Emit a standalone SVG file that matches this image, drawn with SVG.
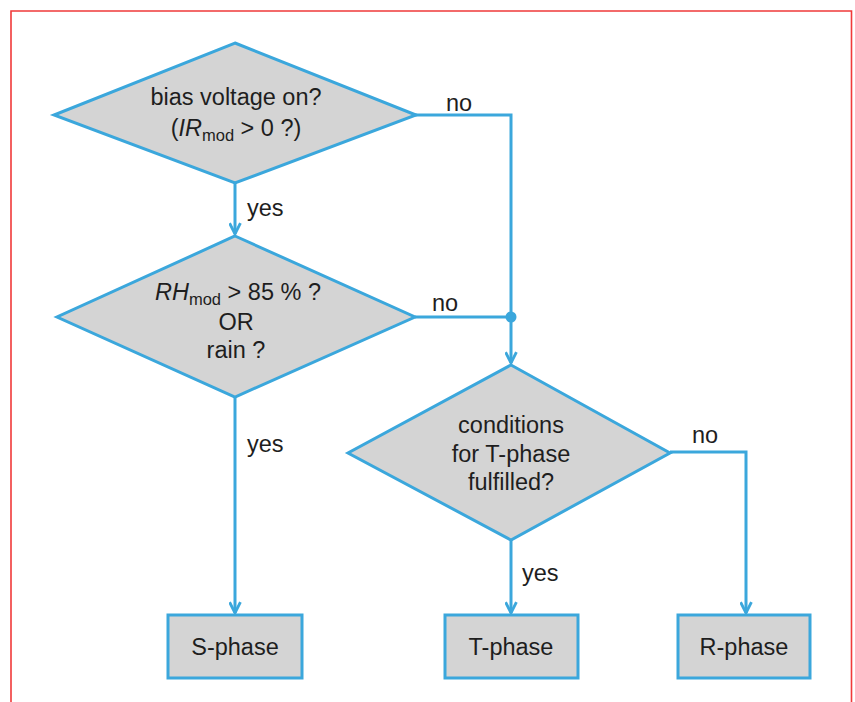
<svg xmlns="http://www.w3.org/2000/svg" width="855" height="702" viewBox="0 0 855 702">
<style>
.shape{fill:#d4d4d4;stroke:#3ba7dc;stroke-width:3;stroke-linejoin:miter}
.conn{fill:none;stroke:#3ba7dc;stroke-width:3}
text{font-family:"Liberation Sans",Arial,sans-serif;font-size:23.5px;fill:#1e1e1e}
.c{text-anchor:middle}
.sub{font-size:16.5px}
</style>
<defs>
<marker id="arr" viewBox="0 0 12 12" refX="11" refY="6" markerWidth="13" markerHeight="13" markerUnits="userSpaceOnUse" orient="auto">
<path d="M1,1 L11,6 L1,11" fill="none" stroke="#3ba7dc" stroke-width="2.6"/>
</marker>
</defs>
<rect width="855" height="702" fill="#ffffff"/>
<path d="M11,702 L11,11 L851.5,11 L851.5,702" fill="none" stroke="#f03a3a" stroke-width="1.6"/>

<g id="connectors">
<path class="conn" d="M235,183 L235,234" marker-end="url(#arr)"/>
<path class="conn" d="M415,115 L511,115 L511,363" marker-end="url(#arr)"/>
<path class="conn" d="M415,317 L511,317"/>
<circle cx="511" cy="317" r="5.5" fill="#3ba7dc"/>
<path class="conn" d="M235,397 L235,613" marker-end="url(#arr)"/>
<path class="conn" d="M511,540 L511,613" marker-end="url(#arr)"/>
<path class="conn" d="M670,452 L746,452 L746,613" marker-end="url(#arr)"/>
<text x="446" y="111">no</text>
<text x="247" y="216">yes</text>
<text x="432" y="311">no</text>
<text x="247" y="452">yes</text>
<text x="692" y="443">no</text>
<text x="522" y="581">yes</text>
</g>

<g id="d1">
<polygon class="shape" points="235,43 416,115 235,183 54,115"/>
<text class="c" x="236" y="105" font-size="24">bias voltage on?</text>
<text class="c" x="236" y="136">(<tspan font-style="italic">IR</tspan><tspan class="sub" dy="5">mod</tspan><tspan dy="-5">  &gt; 0 ?)</tspan></text>
</g>

<g id="d2">
<polygon class="shape" points="235,236 415,317 235,397 57,317"/>
<text class="c" x="238" y="300"><tspan font-style="italic">RH</tspan><tspan class="sub" dy="5">mod</tspan><tspan dy="-5"> &gt; 85 % ?</tspan></text>
<text class="c" x="236" y="330">OR</text>
<text class="c" x="236" y="358">rain ?</text>
</g>

<g id="d3">
<polygon class="shape" points="511,365 670,453 511,540 348,453"/>
<text class="c" x="511" y="433">conditions</text>
<text class="c" x="511" y="462">for T-phase</text>
<text class="c" x="511" y="490">fulfilled?</text>
</g>

<g id="s-phase">
<rect class="shape" x="168" y="615" width="134" height="63"/>
<text class="c" x="235" y="655">S-phase</text>
</g>
<g id="t-phase">
<rect class="shape" x="445" y="615" width="133" height="63"/>
<text class="c" x="511" y="655">T-phase</text>
</g>
<g id="r-phase">
<rect class="shape" x="678" y="615" width="132" height="63"/>
<text class="c" x="744" y="655">R-phase</text>
</g>
</svg>
